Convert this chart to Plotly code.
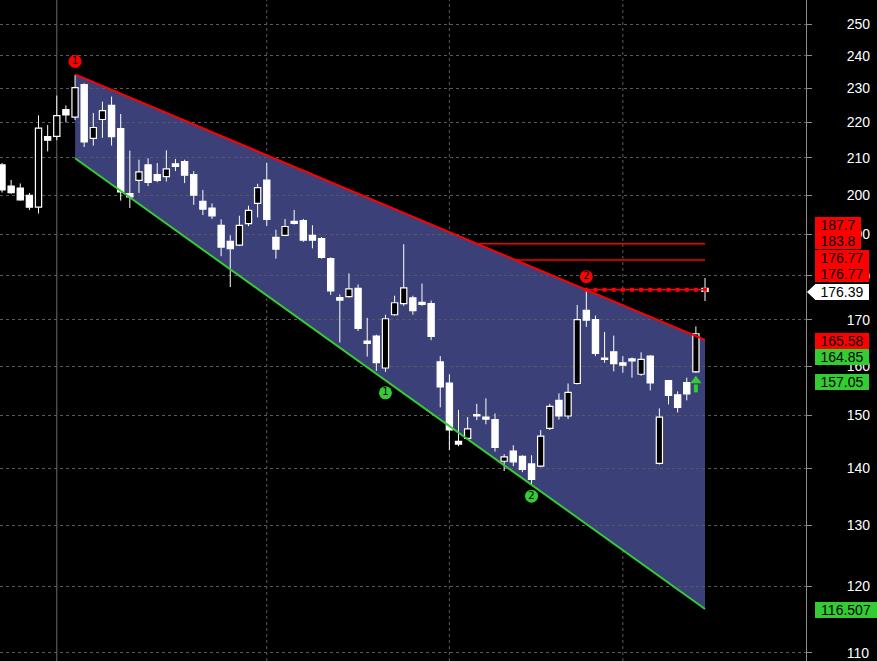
import math
import plotly.graph_objects as go

# ---------------- data ----------------
opens = [208.1, 202.4, 201.9, 200.0, 196.9, 215.9, 216.0, 223.7, 221.5, 231.1,
         215.4, 220.8, 224.9, 218.2, 200.4, 203.9, 208.1, 205.5, 204.9, 208.4,
         209.0, 205.5, 198.4, 196.7, 192.3, 188.3, 187.4, 192.7, 197.9, 204.0,
         189.3, 189.8, 193.3, 193.5, 189.8, 189.0, 184.1, 175.0, 175.2, 177.1,
         165.3, 166.4, 159.6, 171.1, 173.6, 174.9, 173.9, 173.6, 160.9, 156.5,
         145.0, 145.6, 150.2, 149.7, 149.2, 141.3, 143.2, 142.2, 140.8, 140.4,
         147.5, 153.0, 149.9, 156.4, 172.1, 170.0, 161.7, 163.0, 160.7, 161.5,
         158.3, 162.1, 140.9, 157.0, 154.1, 156.6, 158.8, 177.1]
highs = [208.6, 204.0, 203.1, 200.6, 222.0, 219.2, 227.8, 224.9, 234.0, 231.5,
         222.7, 226.0, 227.5, 222.4, 212.0, 209.5, 209.9, 208.6, 212.1, 209.7,
         209.5, 206.4, 201.4, 197.9, 193.8, 189.8, 194.7, 197.3, 203.0, 208.7,
         191.2, 193.9, 196.2, 193.9, 192.3, 189.4, 184.4, 175.7, 180.6, 178.0,
         170.4, 166.7, 171.1, 175.4, 187.6, 175.4, 178.2, 174.3, 162.1, 158.3,
         151.1, 149.7, 152.3, 153.4, 150.4, 142.6, 144.3, 142.4, 142.4, 147.2,
         152.3, 154.4, 156.4, 173.3, 176.5, 170.9, 167.3, 166.5, 162.1, 161.8,
         162.9, 162.3, 151.4, 157.0, 154.8, 157.6, 168.5, 179.5]
lows = [200.7, 200.4, 198.6, 196.2, 195.3, 211.8, 214.9, 220.0, 220.6, 213.0,
        213.4, 215.6, 213.4, 198.6, 196.7, 200.6, 202.4, 203.4, 203.6, 206.4,
        203.2, 197.5, 194.9, 193.9, 184.7, 177.4, 187.2, 192.1, 194.3, 192.1,
        184.1, 189.6, 192.5, 188.2, 186.6, 184.1, 175.6, 165.0, 175.0, 167.5,
        162.0, 159.0, 158.8, 170.9, 173.1, 171.1, 173.1, 165.5, 151.6, 143.4,
        144.1, 145.4, 149.1, 148.3, 143.1, 139.5, 140.4, 139.3, 137.1, 140.2,
        147.2, 149.2, 149.3, 156.2, 168.4, 162.1, 160.7, 158.9, 158.6, 157.6,
        158.0, 155.0, 140.7, 152.2, 150.6, 153.0, 158.6, 174.2]
closes = [201.4, 200.7, 198.8, 196.9, 218.3, 214.9, 221.9, 222.1, 230.2, 214.4,
          218.5, 223.4, 215.9, 200.9, 199.6, 206.2, 203.4, 203.9, 207.0, 207.7,
          205.3, 200.0, 196.4, 194.7, 186.9, 186.5, 192.3, 196.1, 202.0, 193.8,
          186.4, 192.0, 192.8, 188.6, 188.6, 184.4, 176.5, 174.4, 177.0, 168.1,
          164.8, 160.7, 170.2, 173.8, 177.2, 172.0, 173.4, 166.3, 155.7, 147.2,
          144.5, 147.4, 149.9, 149.3, 143.9, 142.1, 141.2, 139.8, 138.0, 146.0,
          151.8, 149.9, 154.6, 170.0, 169.9, 162.7, 161.4, 160.5, 160.2, 161.1,
          161.4, 156.5, 149.7, 154.0, 151.6, 154.3, 166.9, 176.39]
bars = list(range(len(opens)))

# channel (trend lines)
chan_x = [8, 77]
chan_upper = [234.2, 165.58]
chan_lower = [209.9, 116.507]

# horizontal resistance levels
levels_solid = [187.7, 183.8]
level_dotted = 176.77
level_end = 77

# signal markers
sig_red_x = [8, 64]
sig_red_y = [238.2, 179.8]
sig_red_txt = ["1", "2"]
sig_green_x = [42, 58]
sig_green_y = [154.5, 135.0]
sig_green_txt = ["1", "2"]
arrow_x = 76
arrow_tip = 157.7
arrow_neck = 156.2
arrow_tail = 154.6

# vertical separators (bar index)
vsep_solid = [6]
vsep_dotted = [29, 49, 68]

# y ticks
ytick_vals = list(range(110, 260, 10))
ytick_text = [str(v) for v in ytick_vals]

# right-side value labels
label_txt = ["187.7", "183.8", "176.77", "176.77", "165.58", "164.85", "157.05", "116.507"]
label_cols = ["red", "red", "red", "red", "red", "green", "green", "green"]
last_txt = "176.39"

# ---------------- styling ----------------
W, H = 877, 661
PW = 806  # plot width in px
RED = "#ff0000"
GREEN = "#33cc33"
FILL = "#3b4078"
FONT = "Arial, Liberation Sans, sans-serif"
YR = [math.log10(108.85), math.log10(258.1)]
BODY_W = 0.68

def ypaper(v):
    return (math.log10(v) - YR[0]) / (YR[1] - YR[0])

fig = go.Figure()

# candle bodies (bars with base) -- up = hollow, down = filled white
up = [i for i in bars if closes[i] >= opens[i]]
dn = [i for i in bars if closes[i] < opens[i]]
fig.add_trace(go.Bar(x=up, base=[opens[i] for i in up],
                     y=[closes[i] - opens[i] for i in up], width=BODY_W,
                     marker=dict(color="black", line=dict(color="white", width=1.2)),
                     hoverinfo="skip", showlegend=False))
fig.add_trace(go.Bar(x=dn, base=[closes[i] for i in dn],
                     y=[opens[i] - closes[i] for i in dn], width=BODY_W,
                     marker=dict(color="white", line=dict(color="white", width=1.2)),
                     hoverinfo="skip", showlegend=False))

# wicks (outside the body only)
wx, wy = [], []
for i in bars:
    top = max(opens[i], closes[i])
    bot = min(opens[i], closes[i])
    wx += [i, i, None, i, i, None]
    wy += [top, highs[i], None, lows[i], bot, None]
fig.add_trace(go.Scatter(x=wx, y=wy, mode="lines", line=dict(color="white", width=1),
                         hoverinfo="skip", showlegend=False, connectgaps=False))

# channel lines (fill drawn as shape below traces)
fig.add_trace(go.Scatter(x=chan_x, y=chan_lower, mode="lines",
                         line=dict(color=GREEN, width=2), hoverinfo="skip", showlegend=False))
fig.add_trace(go.Scatter(x=chan_x, y=chan_upper, mode="lines",
                         line=dict(color=RED, width=2), hoverinfo="skip", showlegend=False))

# level lines starting where they meet the upper channel line
lu0, lu1 = math.log(chan_upper[0]), math.log(chan_upper[1])
def cross_idx(v):
    return chan_x[0] + (math.log(v) - lu0) / (lu1 - lu0) * (chan_x[1] - chan_x[0])

for lv in levels_solid:
    fig.add_trace(go.Scatter(x=[cross_idx(lv), level_end], y=[lv, lv], mode="lines",
                             line=dict(color=RED, width=1.5), hoverinfo="skip", showlegend=False))
start_d = int(round(cross_idx(level_dotted)))
dx = list(range(start_d, level_end + 1))
fig.add_trace(go.Scatter(x=dx, y=[level_dotted] * len(dx), mode="lines+markers",
                         line=dict(color=RED, width=1.5),
                         marker=dict(symbol="square", size=4, color=RED),
                         hoverinfo="skip", showlegend=False))

# signal markers
for sx, sy, st, col in [(sig_red_x, sig_red_y, sig_red_txt, RED),
                        (sig_green_x, sig_green_y, sig_green_txt, GREEN)]:
    fig.add_trace(go.Scatter(x=sx, y=sy, mode="markers+text", text=st,
                             textposition="middle center",
                             textfont=dict(color="black", size=10, family="DejaVu Sans"),
                             marker=dict(size=13, color=col), hoverinfo="skip", showlegend=False))

# green up arrow (shaft + head)
fig.add_trace(go.Scatter(x=[arrow_x, arrow_x], y=[arrow_tail, arrow_neck], mode="lines",
                         line=dict(color=GREEN, width=4), hoverinfo="skip", showlegend=False))
fig.add_trace(go.Scatter(x=[arrow_x], y=[math.sqrt(arrow_tip * arrow_neck)], mode="markers",
                         marker=dict(symbol="triangle-up", size=10, color=GREEN),
                         hoverinfo="skip", showlegend=False))

shapes = []
for xv in vsep_solid:
    shapes.append(dict(type="line", xref="x", yref="paper", x0=xv, x1=xv, y0=0, y1=1,
                       line=dict(color="#6a6a6a", width=1), layer="below"))
for xv in vsep_dotted:
    shapes.append(dict(type="line", xref="x", yref="paper", x0=xv, x1=xv, y0=0, y1=1,
                       line=dict(color="#5a5a5a", width=1, dash="dot"), layer="below"))

# channel fill
path = (f"M {chan_x[0]},{ypaper(chan_upper[0])} L {chan_x[1]},{ypaper(chan_upper[1])} "
        f"L {chan_x[1]},{ypaper(chan_lower[1])} L {chan_x[0]},{ypaper(chan_lower[0])} Z")
shapes.append(dict(type="path", xref="x", yref="paper", path=path,
                   fillcolor=FILL, line=dict(width=0), layer="between"))

annotations = []
centers = [224.5, 241, 257.5, 274, 340.5, 357.5, 381.5, 609.5]
BOX_L = 815
for txt, col, cy in zip(label_txt, label_cols, centers):
    w = 8 * len(txt) + 6
    annotations.append(dict(x=BOX_L / PW, y=1 - cy / H, xref="paper", yref="paper",
                            xanchor="left", yanchor="middle", text=txt, showarrow=False,
                            bgcolor=RED if col == "red" else GREEN, width=w, height=16,
                            borderpad=0, borderwidth=0, align="center",
                            font=dict(color="black", size=14, family=FONT)))
cy = 292
annotations.append(dict(x=BOX_L / PW, y=1 - cy / H, xref="paper", yref="paper",
                        xanchor="left", yanchor="middle", text=last_txt, showarrow=False,
                        bgcolor="white", width=54, height=16, borderpad=0, borderwidth=0,
                        align="center", font=dict(color="black", size=14, family=FONT)))
tip = 807
shapes.append(dict(type="path", xref="paper", yref="paper",
                   path=f"M {tip/PW},{1-cy/H} L {(BOX_L+0.5)/PW},{1-(cy-8)/H} "
                        f"L {(BOX_L+0.5)/PW},{1-(cy+8)/H} Z",
                   fillcolor="white", line=dict(width=0)))

fig.update_layout(
    width=W, height=H,
    margin=dict(l=0, r=W - PW, t=0, b=0),
    paper_bgcolor="black", plot_bgcolor="black",
    showlegend=False, hovermode=False,
    barmode="overlay",
    shapes=shapes, annotations=annotations,
    font=dict(family=FONT, color="white"),
    xaxis=dict(range=[-0.22, 88.06], showgrid=False, zeroline=False,
               showticklabels=False, ticks="", fixedrange=True),
    yaxis=dict(type="log", range=YR,
               side="right", tickvals=ytick_vals, ticktext=ytick_text,
               showline=True, linecolor="#8a8a8a", linewidth=1,
               ticks="outside", ticklen=5, tickcolor="#8a8a8a",
               ticklabelstandoff=32,
               showgrid=True, gridcolor="#5a5a5a", griddash="dot", gridwidth=1,
               zeroline=False, tickfont=dict(color="white", size=14, family=FONT),
               fixedrange=True),
)

fig.write_html("out.html", config={"displayModeBar": False},
               post_script="document.body.style.margin='0px';document.body.style.overflow='hidden';")
